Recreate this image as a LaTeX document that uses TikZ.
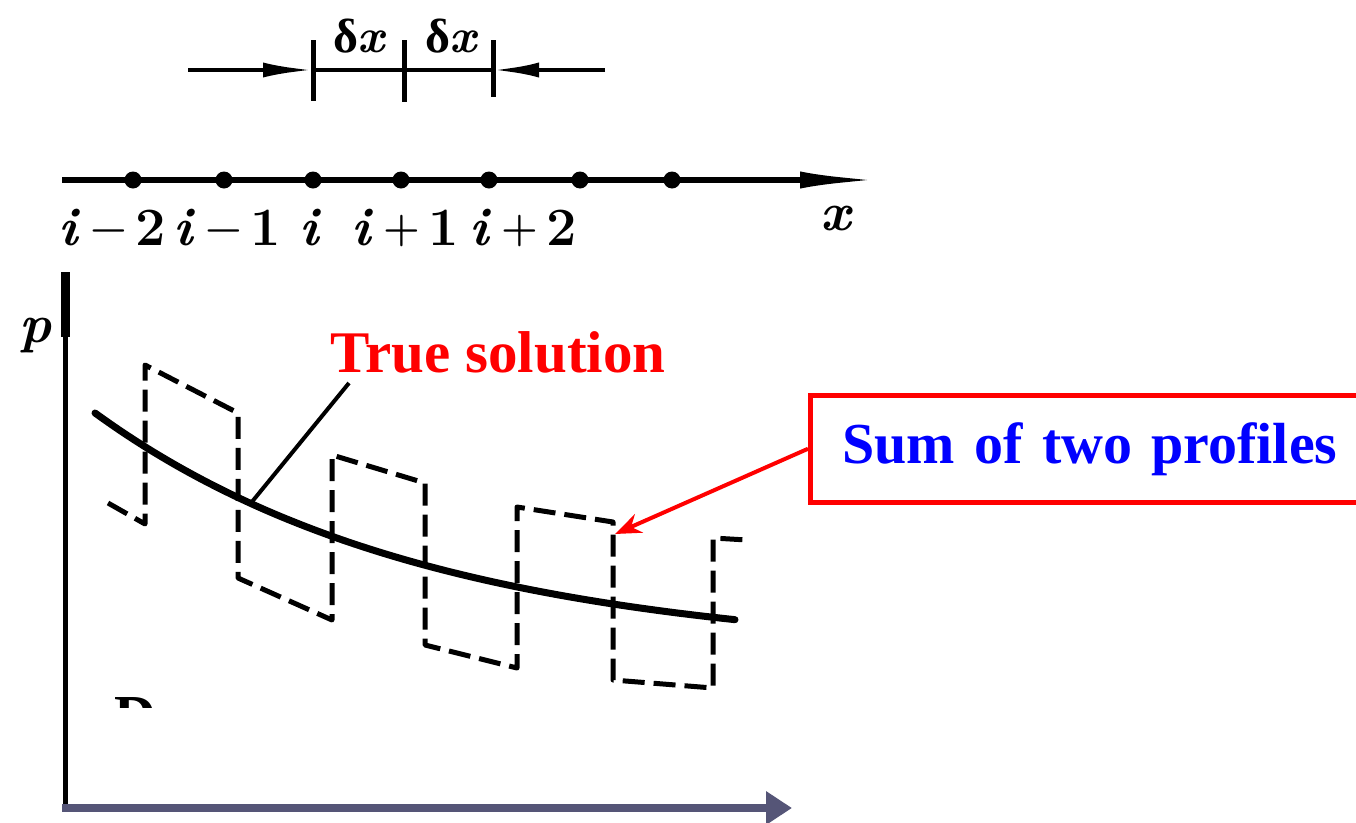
\documentclass[tikz,border=0pt]{standalone}
\usepackage{fontspec}
\newfontfamily\tnr{Liberation Serif}
\usetikzlibrary{arrows.meta}
\definecolor{axisslate}{RGB}{85,85,119}
\definecolor{pureblue}{RGB}{0,0,255}
\definecolor{purered}{RGB}{255,0,0}
\newcommand{\ilab}[2]{\textit{i}\hspace{0.2em}\raisebox{0.06em}{\fontsize{42}{46}\selectfont #1}\hspace{0.14em}#2}
\begin{document}
\begin{tikzpicture}[x=1pt,y=-1pt,
  scanline/.style={line width=4.5},
  tickmark/.style={line width=5},
  dot/.style={circle,fill=black,inner sep=0,minimum size=17},
  mathlbl/.style={inner sep=0,anchor=base west,font=\fontsize{54}{58}\selectfont\bfseries},
  dimlbl/.style={inner sep=0,anchor=base,font=\fontsize{48}{52}\selectfont\bfseries},
  profile/.style={line width=5,dash pattern=on 22 off 9,line join=round},
  truecurve/.style={line width=7,line cap=round},
  redtext/.style={inner sep=0,anchor=base,text=purered,font=\fontsize{59}{62}\selectfont\tnr\bfseries},
  sumbox/.style={draw=purered,line width=4.5,fill=white,anchor=north west,minimum height=107,
     inner xsep=32,inner ysep=0,text width=506,align=left,text=pureblue,
     font=\fontsize{58}{60}\selectfont\tnr\bfseries},
  redarrow/.style={draw=purered,line width=4,-{Stealth[length=26,width=20]}},
]
\useasboundingbox (0,0) rectangle (1356,822);

% ---- dimension line with delta x ----
\coordinate (dimL) at (188,70);
\coordinate (dimR) at (605,70);
\coordinate (tA) at (313,70);
\coordinate (tB) at (404,70);
\coordinate (tC) at (493,70);
\draw[scanline] (tA) -- (tC);
\draw[scanline,-{Latex[length=50,width=15]}] (dimL) -- (tA);
\draw[scanline,-{Latex[length=46,width=15]}] (dimR) -- (tC);
\draw[tickmark] (313,40) -- (313,101);
\draw[tickmark] (404,40) -- (404,102);
\draw[tickmark] (493,40) -- (493,97);
\node[dimlbl] (dx1) at (360,52) {{\tnr δ}\textit{x}};
\node[dimlbl] (dx2) at (452,52) {{\tnr δ}\textit{x}};

% ---- grid axis ----
\coordinate (axL) at (62,180);
\coordinate (axR) at (880,180);
\draw[line width=6,-{Latex[length=80,width=17]}] (axL) -- (axR);
\node[dot] (g1) at (133,180) {};
\node[dot] (g2) at (224,180) {};
\node[dot] (g3) at (313,180) {};
\node[dot] (g4) at (401,180) {};
\node[dot] (g5) at (489,180) {};
\node[dot] (g6) at (580,180) {};
\node[dot] (g7) at (672,180) {};
\node[mathlbl] (l1) at (58,245) {\ilab{−}{2}};
\node[mathlbl] (l2) at (173,245) {\ilab{−}{1}};
\node[mathlbl] (l3) at (299,245) {\textit{i}};
\node[mathlbl] (l4) at (351,245) {\ilab{+}{1}};
\node[mathlbl] (l5) at (469,245) {\ilab{+}{2}};
\node[mathlbl,anchor=base] (xl) at (837,230) {\textit{x}};

% ---- p axis ----
\coordinate (pTop) at (65,272);
\coordinate (pBot) at (65,808);
\draw[line width=5] (pTop) -- (pBot);
\draw[line width=9] (pTop) -- (65,337);
\node[mathlbl,anchor=base] (pl) at (36,342) {\textit{p}};

% ---- bottom axis ----
\coordinate (bL) at (62,808);
\coordinate (bR) at (792,808);
\draw[draw=axisslate,line width=8,-{Triangle[length=26,width=32]}] (bL) -- (bR);

% ---- partially hidden letter ----
\begin{scope}
\clip (100,690) rectangle (170,707);
\node[inner sep=0,anchor=north west,font=\fontsize{58}{60}\selectfont\tnr\bfseries] (dhid) at (114,697) {D};
\end{scope}

% ---- dashed profile ----
\draw[profile] (108,503) -- (145,524) -- (145,365) -- (238,413) -- (238,578)
  -- (332,620) -- (332,455) -- (425,483) -- (425,645) -- (517,668) -- (517,507)
  -- (613,522) -- (613,680) -- (713,688) -- (713,538) -- (747,540);

% ---- true solution curve ----
\draw[truecurve] plot[domain=95:735,samples=80] (\x,{655-242*exp(-0.003*(\x-95))});

\node[redtext] (truesol) at (498,372) {True solution};
\coordinate (tsfoot) at (251,503);
\coordinate (tshead) at (349,383);
\draw[line width=4] (tsfoot) -- (tshead);

% ---- sum of two profiles box ----
\node[sumbox] (sum) at (808,393) {Sum of two profiles};
\coordinate (tip) at (615,534);
\draw[redarrow] (sum.west) -- (tip);
\end{tikzpicture}
\end{document}
